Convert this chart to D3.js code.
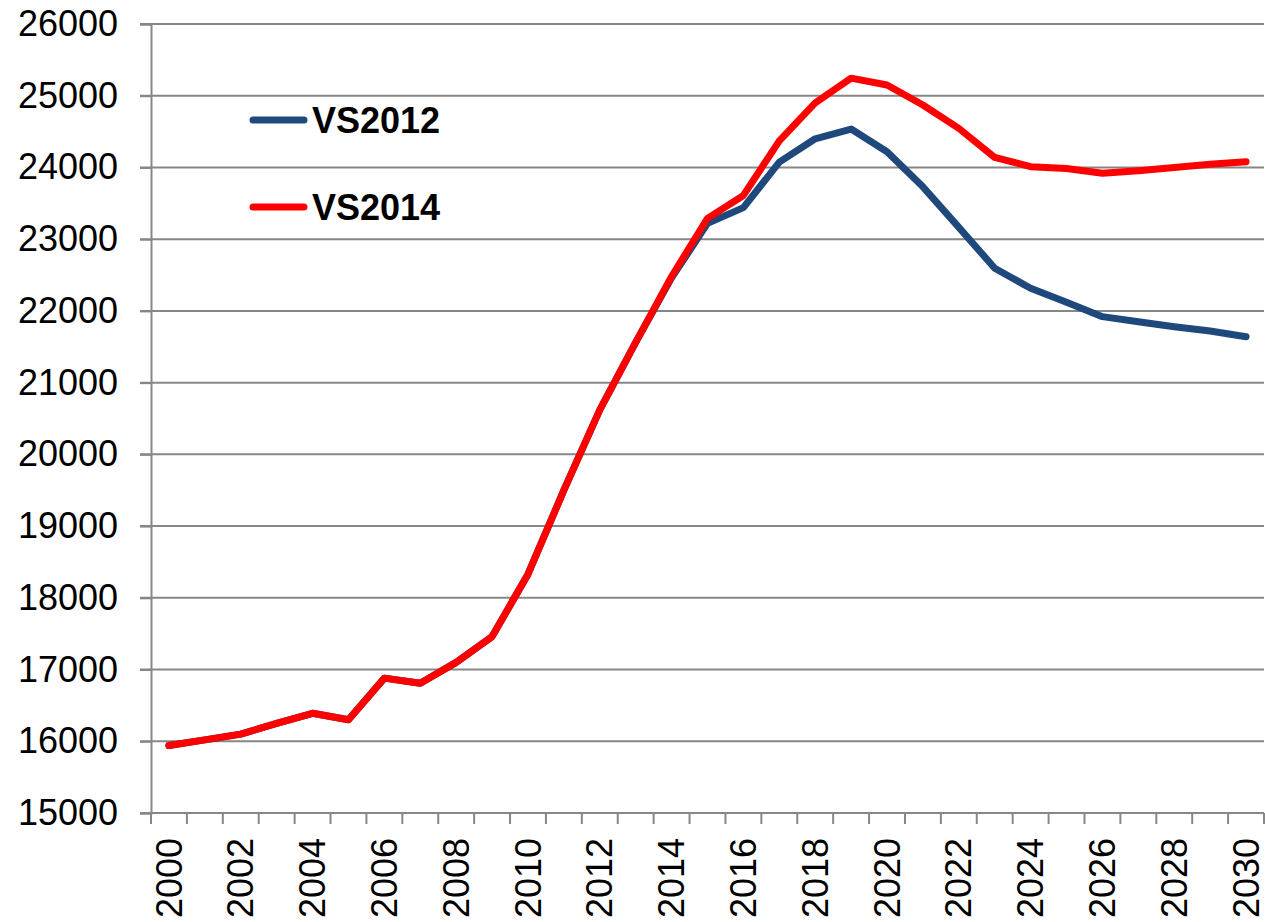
<!DOCTYPE html>
<meta charset="utf-8">
<style>
body { margin: 0; background: #fff; }
text { font-family: Arial, "Liberation Sans", sans-serif; }
.grid line { stroke: #878787; stroke-width: 2px; }
.axis path, .axis line { stroke: #878787; stroke-width: 2px; }
.axis text { font-size: 36px; fill: #000; }
.series { fill: none; stroke-width: 7px; stroke-linejoin: round; stroke-linecap: round; }
</style>
<svg width="1265" height="922"></svg>
<script src="https://cdnjs.cloudflare.com/ajax/libs/d3/7.8.5/d3.min.js"></script>
<script>

var years = d3.range(2000, 2031)
var yTicks = [15000, 16000, 17000, 18000, 19000, 20000, 21000, 22000, 23000, 24000, 25000, 26000]

var vs2012 = [15940, 16020, 16100, 16250, 16390, 16300, 16880, 16810, 17100, 17460,
              18330, 19500, 20620, 21560, 22460, 23220, 23440, 24075, 24400, 24535,
              24220, 23730, 23165, 22595, 22315, 22120, 21920, 21850, 21780, 21720, 21640]

var vs2014 = [15940, 16020, 16100, 16250, 16390, 16300, 16880, 16810, 17100, 17460,
              18330, 19500, 20620, 21560, 22480, 23290, 23610, 24370, 24900, 25245,
              25150, 24870, 24545, 24140, 24010, 23985, 23920, 23955, 24000, 24045, 24080]

var series = [
  { name: "VS2012", color: "#1f497d", values: vs2012 },
  { name: "VS2014", color: "#ff0000", values: vs2014 }
]

var svg = d3.select("svg")

// note: "top" clashes with window.top
var plotLeft = 151, plotRight = 1264, plotTop = 24, plotBottom = 813

var x = d3.scaleBand()
    .domain(years)
    .range([plotLeft, plotRight])

var y = d3.scaleLinear()
    .domain([15000, 26000])
    .range([plotBottom, plotTop])

// horizontal gridlines
svg.append("g")
    .attr("class", "grid")
  .selectAll("line")
  .data(yTicks)
  .enter().append("line")
    .attr("x1", plotLeft - 11)
    .attr("x2", plotRight)
    .attr("y1", function(d) { return y(d) })
    .attr("y2", function(d) { return y(d) })

// y axis
svg.append("g")
    .attr("class", "axis")
    .attr("transform", "translate(" + plotLeft + ",0)")
    .call(d3.axisLeft(y).tickValues(yTicks).tickFormat(d3.format("d")).tickSize(11).tickPadding(22))

// x axis
var xAxis = svg.append("g")
    .attr("class", "axis")
    .attr("transform", "translate(0," + plotBottom + ")")
    .call(d3.axisBottom(x).tickSize(0).tickFormat(function(d) { return d % 2 === 0 ? d : "" }))

xAxis.select(".domain").attr("d", "M" + plotLeft + ",0H" + plotRight)

xAxis.selectAll(".tick text")
    .attr("transform", "rotate(-90)")
    .attr("text-anchor", "end")
    .attr("x", -25)
    .attr("y", 0)
    .attr("dy", "0.35em")

// category boundary ticks
xAxis.selectAll(".sep")
  .data(years.concat([2031]))
  .enter().append("line")
    .attr("class", "sep")
    .attr("x1", function(d, i) { return plotLeft + i * x.step() })
    .attr("x2", function(d, i) { return plotLeft + i * x.step() })
    .attr("y1", 0)
    .attr("y2", 11)

var line = d3.line()
    .x(function(d, i) { return x(years[i]) + x.bandwidth() / 2 })
    .y(function(d) { return y(d) })

svg.selectAll(".series")
  .data(series)
  .enter().append("path")
    .attr("class", "series")
    .attr("stroke", function(d) { return d.color })
    .attr("d", function(d) { return line(d.values) })

// legend
var legend = svg.selectAll(".legend")
  .data(series)
  .enter().append("g")
    .attr("class", "legend")
    .attr("transform", function(d, i) { return "translate(250," + (120 + i * 87) + ")" })

legend.append("line")
    .attr("x1", 3)
    .attr("x2", 54)
    .attr("stroke", function(d) { return d.color })
    .attr("stroke-width", 7)
    .attr("stroke-linecap", "round")

legend.append("text")
    .attr("x", 62)
    .attr("dy", "0.36em")
    .style("font-size", "36px")
    .style("font-weight", "bold")
    .text(function(d) { return d.name })

</script>
